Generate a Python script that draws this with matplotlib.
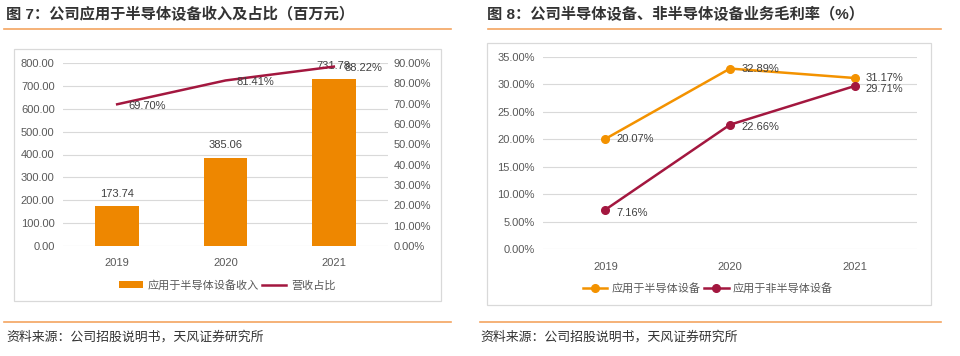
import matplotlib.pyplot as plt
from matplotlib.patches import Rectangle
from matplotlib.lines import Line2D
from matplotlib.ticker import FuncFormatter

plt.rcParams['font.family'] = ['Liberation Sans', 'Noto Sans CJK SC', 'DejaVu Sans']

# data
years = ['2019', '2020', '2021']
semi_revenue = [173.74, 385.06, 731.78]        # 百万元
revenue_share = [69.70, 81.41, 88.22]          # %
margin_semi = [20.07, 32.89, 31.17]            # %
margin_non_semi = [7.16, 22.66, 29.71]         # %

ORANGE = '#EE8700'
ORANGE_LINE = '#F39200'
MAROON = '#A3173F'
GRID = '#D9D9D9'
TXT = '#595959'
W, H = 960, 356

fig = plt.figure(figsize=(W / 100, H / 100), dpi=100)
fig.patch.set_facecolor('white')


def rect(x0, y0, x1, y1):
    # pixel box (top-left origin) -> figure fraction
    return [x0 / W, 1 - y1 / H, (x1 - x0) / W, (y1 - y0) / H]


def hline(x0, x1, y, color='#F4A460', lw=1.2):
    fig.add_artist(Line2D([x0 / W, x1 / W], [1 - y / H, 1 - y / H], color=color, lw=lw))


def frame(x0, y0, x1, y1):
    r = rect(x0, y0, x1, y1)
    fig.add_artist(Rectangle((r[0], r[1]), r[2], r[3], fill=False, ec=GRID, lw=0.9))


def style_axis(ax):
    for s in ax.spines.values():
        s.set_visible(False)
    ax.tick_params(length=0, colors=TXT, labelsize=8)
    ax.set_facecolor('none')


# titles, rules, sources
fig.text(6 / W, 1 - 15 / H, '图 7：公司应用于半导体设备收入及占比（百万元）', fontsize=11,
         fontweight='bold', color='#333333', va='center')
fig.text(487 / W, 1 - 15 / H, '图 8：公司半导体设备、非半导体设备业务毛利率（%）', fontsize=11,
         fontweight='bold', color='#333333', va='center')
hline(4, 451, 29)
hline(488, 941, 29)
hline(4, 451, 322)
hline(480, 941, 322)
for x in (6, 480):
    fig.text(x / W, 1 - 337 / H, '资料来源：公司招股说明书，天风证券研究所', fontsize=9.3,
             color='#333333', va='center')

frame(14, 49, 441, 301)
frame(487, 43, 931, 305)

# ---- left chart: bars + share line
ax1 = fig.add_axes(rect(63, 63, 388, 246))
xs = range(len(years))
ax1.bar(xs, semi_revenue, width=0.4, color=ORANGE, zorder=2, label='应用于半导体设备收入')
ax1.set_ylim(0, 800)
ax1.set_yticks(range(0, 801, 100))
ax1.yaxis.set_major_formatter(FuncFormatter(lambda v, p: f'{v:.2f}'))
ax1.set_xlim(-0.5, 2.5)
ax1.set_xticks(list(xs))
ax1.set_xticklabels(years)
ax1.tick_params(axis='x', pad=9)
ax1.tick_params(axis='y', pad=6)
ax1.grid(axis='y', color=GRID, lw=0.8, zorder=0)
style_axis(ax1)
for i, v in enumerate(semi_revenue):
    ax1.annotate(f'{v:.2f}', (i, v), xytext=(0, 9), textcoords='offset points',
                 ha='center', va='center', fontsize=8, color='#404040')

ax2 = ax1.twinx()
ax2.plot(xs, revenue_share, color=MAROON, lw=1.8, label='营收占比')
ax2.set_ylim(0, 90)
ax2.set_yticks(range(0, 91, 10))
ax2.yaxis.set_major_formatter(FuncFormatter(lambda v, p: f'{v:.2f}%'))
style_axis(ax2)
ax2.tick_params(axis='y', pad=4)
for i, v in enumerate(revenue_share):
    ax2.annotate(f'{v:.2f}%', (i, v), xytext=(8, -1), textcoords='offset points',
                 ha='left', va='center', fontsize=8, color='#404040')

h1, l1 = ax1.get_legend_handles_labels()
h2, l2 = ax2.get_legend_handles_labels()
fig.legend(h1 + h2, l1 + l2, loc='center', bbox_to_anchor=(227 / W, 1 - 285 / H),
           ncol=2, frameon=False, fontsize=8, handlelength=2.2, columnspacing=0.3,
           handletextpad=0.4, labelcolor=TXT)

# ---- right chart: gross margin lines
ax3 = fig.add_axes(rect(543, 57, 917, 249))
ax3.plot(xs, margin_semi, color=ORANGE_LINE, lw=1.8, marker='o', ms=5.5,
         label='应用于半导体设备', zorder=3)
ax3.plot(xs, margin_non_semi, color=MAROON, lw=1.8, marker='o', ms=5.5,
         label='应用于非半导体设备', zorder=3)
ax3.set_ylim(0, 35)
ax3.set_yticks(range(0, 36, 5))
ax3.yaxis.set_major_formatter(FuncFormatter(lambda v, p: f'{v:.2f}%'))
ax3.set_xlim(-0.5, 2.5)
ax3.set_xticks(list(xs))
ax3.set_xticklabels(years)
ax3.tick_params(axis='x', pad=9)
ax3.tick_params(axis='y', pad=6)
ax3.grid(axis='y', color=GRID, lw=0.8, zorder=0)
style_axis(ax3)
for series, dy in ((margin_semi, 0), (margin_non_semi, -2)):
    for i, v in enumerate(series):
        ax3.annotate(f'{v:.2f}%', (i, v), xytext=(8, dy), textcoords='offset points',
                     ha='left', va='center', fontsize=8, color='#404040')
ax3.legend(loc='center', bbox_to_anchor=(708 / W, 1 - 288 / H),
           bbox_transform=fig.transFigure, ncol=2, frameon=False, fontsize=8,
           handlelength=2.2, columnspacing=0.3, handletextpad=0.4, labelcolor=TXT)

fig.savefig('out.png', dpi=100, facecolor='white')
